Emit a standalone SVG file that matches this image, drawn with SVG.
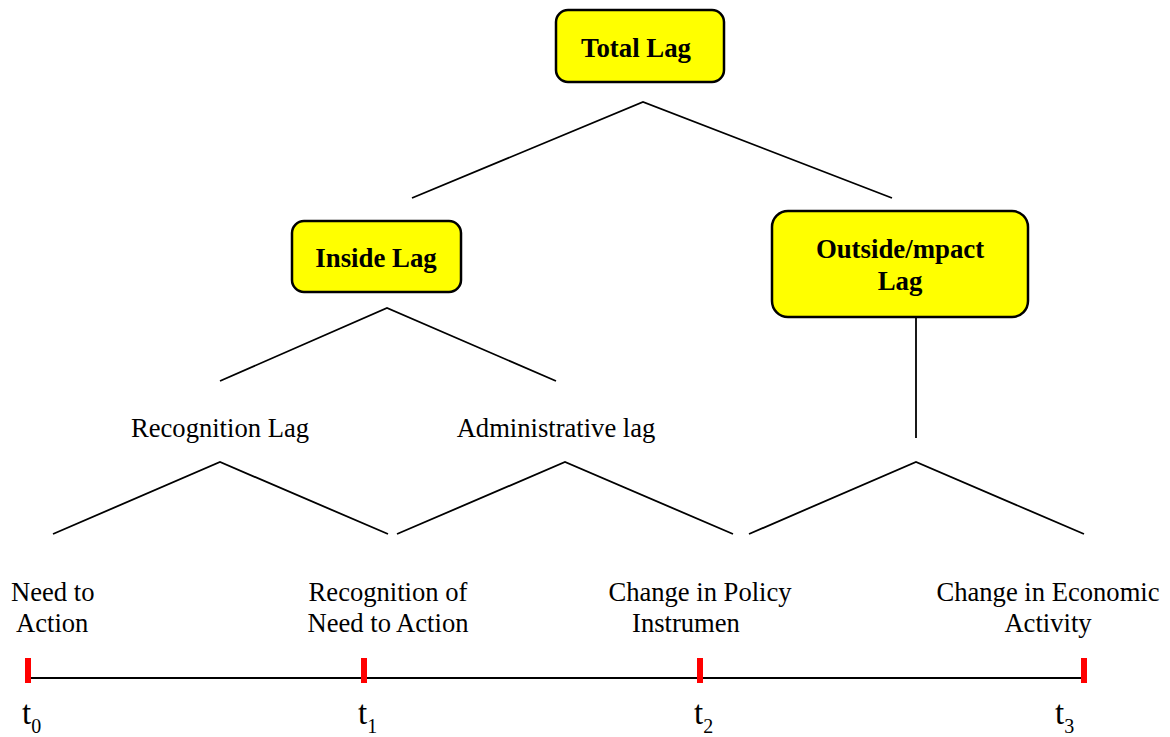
<svg xmlns="http://www.w3.org/2000/svg" width="1170" height="737" viewBox="0 0 1170 737">
<style>
.box{fill:#ffff00;stroke:#000;stroke-width:2.5}
.bt{font-family:"Liberation Serif","Times New Roman",serif;font-weight:bold;font-size:26.8px;text-anchor:middle;fill:#000}
.t{font-family:"Liberation Serif","Times New Roman",serif;font-size:26.6px;fill:#000}
.c{text-anchor:middle}
.ln{stroke:#000;stroke-width:1.8;fill:none}
.tk{fill:#ff0000}
.tl{font-family:"Liberation Serif","Times New Roman",serif;font-size:33px;fill:#000}
</style>
<rect width="1170" height="737" fill="#fff"/>
<g id="total-lag"><rect class="box" x="556" y="10" width="168" height="72" rx="12"/><text class="bt" x="636" y="57">Total Lag</text></g>
<g id="inside-lag"><rect class="box" x="292" y="221" width="169" height="71" rx="12"/><text class="bt" x="376" y="267">Inside Lag</text></g>
<g id="outside-lag"><rect class="box" x="772" y="211" width="256" height="106" rx="16"/><text class="bt" x="900" y="258">Outside/mpact</text><text class="bt" x="900" y="290">Lag</text></g>
<g id="recognition-lag"><text class="t c" x="220" y="437">Recognition Lag</text></g>
<g id="administrative-lag"><text class="t c" x="556" y="437">Administrative lag</text></g>
<g id="need-to-action"><text class="t" x="11" y="601">Need to</text><text class="t" x="16" y="632">Action</text></g>
<g id="recognition-of-need"><text class="t c" x="388" y="601">Recognition of</text><text class="t c" x="388" y="632">Need to Action</text></g>
<g id="change-policy"><text class="t c" x="700" y="601">Change in Policy</text><text class="t c" x="686" y="632">Instrumen</text></g>
<g id="change-economic"><text class="t c" x="1048" y="601">Change in Economic</text><text class="t c" x="1048" y="632">Activity</text></g>
<g id="connectors">
<polyline class="ln" points="412,198 643,102 892,198"/>
<polyline class="ln" points="220,381 387,308 556,381"/>
<line class="ln" x1="916" y1="318" x2="916" y2="438"/>
<polyline class="ln" points="53,534 220,462 388,534"/>
<polyline class="ln" points="397,534 565,462 733,534"/>
<polyline class="ln" points="749,534 916,462 1084,534"/>
</g>
<g id="timeline">
<line x1="28" y1="678" x2="1084" y2="678" stroke="#000" stroke-width="2"/>
<rect class="tk" x="25" y="658" width="6" height="25"/>
<rect class="tk" x="361" y="658" width="6" height="25"/>
<rect class="tk" x="697" y="658" width="6" height="25"/>
<rect class="tk" x="1081" y="658" width="6" height="25"/>
<text class="tl" x="22" y="724">t<tspan font-size="20" dy="9">0</tspan></text>
<text class="tl" x="358" y="724">t<tspan font-size="20" dy="9">1</tspan></text>
<text class="tl" x="694" y="724">t<tspan font-size="20" dy="9">2</tspan></text>
<text class="tl" x="1055" y="724">t<tspan font-size="20" dy="9">3</tspan></text>
</g>
</svg>
